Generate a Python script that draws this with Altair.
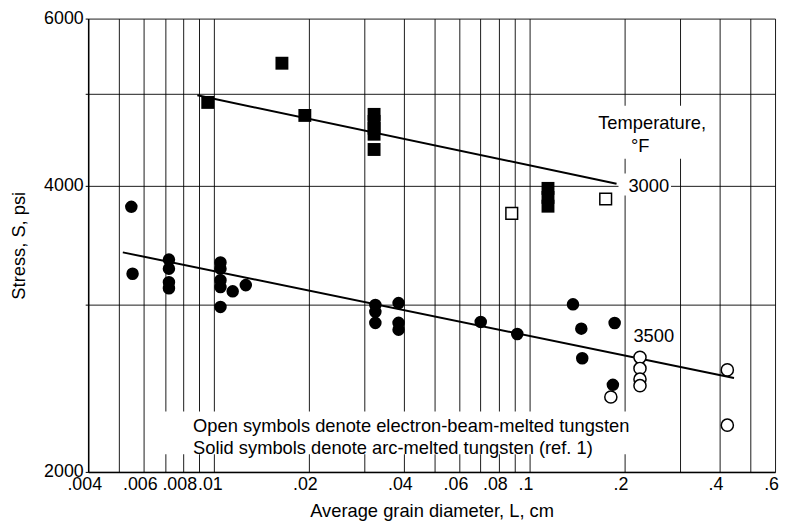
import altair as alt
import pandas as pd

# ---- data ----
# solid circles: arc-melted tungsten, 3500 F
solid_circle_L = [0.00548, 0.00553, 0.00721, 0.00721, 0.00721, 0.00721,
                  0.0105, 0.0105, 0.0105, 0.0105, 0.0105, 0.01148, 0.01263,
                  0.0325, 0.0325, 0.0325, 0.0385, 0.0385, 0.0385,
                  0.0701, 0.0915, 0.1374, 0.146, 0.1862, 0.147, 0.1838]
solid_circle_S = [3802, 3233, 3346, 3273, 3167, 3121,
                  3322, 3273, 3183, 3130, 2983, 3098, 3145,
                  2997, 2948, 2870, 3011, 2870, 2823,
                  2876, 2794, 3002, 2830, 2869, 2634, 2470]
# solid squares: arc-melted tungsten, 3000 F
solid_square_L = [0.00957, 0.01644, 0.01943, 0.0322, 0.0322, 0.0322, 0.0322, 0.0322,
                  0.1145, 0.1145, 0.1145]
solid_square_S = [4897, 5385, 4745, 4757, 4677, 4600, 4534, 4369,
                  3976, 3890, 3808]
# open circles: electron-beam-melted, 3500 F
open_circle_L = [0.1811, 0.224, 0.224, 0.224, 0.224, 0.4236, 0.4236]
open_circle_S = [2398, 2640, 2570, 2504, 2465, 2561, 2240]
# open squares: electron-beam-melted, 3000 F
open_square_L = [0.0879, 0.1744]
open_square_S = [3743, 3875]
# fitted lines
line3000_L = [0.00887, 0.1888]
line3000_S = [4982, 4021]
line3500_L = [0.00515, 0.4447]
line3500_S = [3405, 2511]

# tick values
x_grid = [0.004, 0.005, 0.006, 0.007, 0.008, 0.009,
          0.01, 0.02, 0.03, 0.04, 0.05, 0.06, 0.07, 0.08, 0.09,
          0.1, 0.2, 0.3, 0.4, 0.5, 0.6]
x_labeled = [0.004, 0.006, 0.008, 0.01, 0.02, 0.04, 0.06, 0.08, 0.1, 0.2, 0.4, 0.6]
y_grid = [2000, 3000, 4000, 5000, 6000]

# annotation text
texts = ["Temperature,", "\u00b0F", "3000", "3500",
         "Open symbols denote electron-beam-melted tungsten",
         "Solid symbols denote arc-melted tungsten (ref. 1)"]
text_L = [0.2447, 0.2245, 0.2059, 0.2135, 0.0086, 0.0086]
text_S = [4660, 4410, 4000, 2779, 2237, 2118]
text_align = ["center", "center", "left", "left", "left", "left"]

# white backgrounds behind labels (in data coordinates)
box_L1 = [0.00692, 0.160, 0.1915]
box_L2 = [0.2135, 0.380, 0.2809]
box_S1 = [2315, 4859, 4121]
box_S2 = [2087, 4272, 3909]

FONT = "Liberation Sans, Arial, sans-serif"

xs = alt.Scale(type="log", domain=[0.004, 0.6], nice=False)
ys = alt.Scale(type="log", domain=[2000, 6000], nice=False)

lab_list = "[" + ",".join(str(v) for v in x_labeled) + "]"
xaxis = alt.Axis(values=x_grid, grid=True, gridColor="black", gridWidth=1, gridOpacity=0.9,
                 labelExpr=f"indexof({lab_list}, datum.value) >= 0 ? replace(toString(datum.value), '0.', '.') : ''",
                 title="Average grain diameter, L, cm", labelFlush=False, labelOffset=-4,
                 ticks=False, labelPadding=4, titlePadding=8,
                 domainColor="black", domainWidth=1.5)
yaxis = alt.Axis(values=y_grid, grid=True, gridColor="black", gridWidth=1, gridOpacity=0.9,
                 format="d",
                 labelExpr="datum.value == 3000 || datum.value == 5000 ? '' : datum.label",
                 title="Stress, S, psi", ticks=True, tickSize=3, tickColor="black",
                 labelPadding=2, titlePadding=15,
                 domainColor="black", domainWidth=1.5)


def X(f):
    return alt.X(f, type="quantitative", scale=xs, axis=xaxis)


def Y(f):
    return alt.Y(f, type="quantitative", scale=ys, axis=yaxis)


boxes = pd.DataFrame({"L1": box_L1, "L2": box_L2, "S1": box_S1, "S2": box_S2})
box_layer = alt.Chart(boxes).mark_rect(fill="white", strokeWidth=0).encode(
    x=X("L1"), x2="L2", y=Y("S1"), y2="S2")

l3000 = pd.DataFrame({"L": line3000_L, "S": line3000_S})
l3500 = pd.DataFrame({"L": line3500_L, "S": line3500_S})
line_a = alt.Chart(l3000).mark_line(color="black", strokeWidth=2).encode(x=X("L"), y=Y("S"))
line_b = alt.Chart(l3500).mark_line(color="black", strokeWidth=2).encode(x=X("L"), y=Y("S"))

sc = pd.DataFrame({"L": solid_circle_L, "S": solid_circle_S})
ss = pd.DataFrame({"L": solid_square_L, "S": solid_square_S})
oc = pd.DataFrame({"L": open_circle_L, "S": open_circle_S})
osq = pd.DataFrame({"L": open_square_L, "S": open_square_S})

p_sc = alt.Chart(sc).mark_point(shape="circle", filled=True, color="black", size=160, opacity=1).encode(
    x=X("L"), y=Y("S"))
p_ss = alt.Chart(ss).mark_point(shape="square", filled=True, color="black", size=170, opacity=1).encode(
    x=X("L"), y=Y("S"))
p_oc = alt.Chart(oc).mark_point(shape="circle", filled=True, fill="white", stroke="black",
                                strokeWidth=1.5, size=150, opacity=1).encode(x=X("L"), y=Y("S"))
p_os = alt.Chart(osq).mark_point(shape="square", filled=True, fill="white", stroke="black",
                                 strokeWidth=1.5, size=140, opacity=1).encode(x=X("L"), y=Y("S"))

tdf = pd.DataFrame({"t": texts, "L": text_L, "S": text_S, "a": text_align})
t_center = alt.Chart(tdf[tdf.a == "center"]).mark_text(
    font=FONT, fontSize=18.5, color="black", align="center", baseline="middle").encode(
    x=X("L"), y=Y("S"), text="t")
t_left = alt.Chart(tdf[tdf.a == "left"]).mark_text(
    font=FONT, fontSize=18.5, color="black", align="left", baseline="middle").encode(
    x=X("L"), y=Y("S"), text="t")

chart = alt.layer(box_layer, line_a, line_b, p_sc, p_ss, p_oc, p_os, t_center, t_left).properties(
    width=694, height=458,
    autosize=alt.AutoSizeParams(type="none"),
    padding={"left": 81, "top": 8, "right": 5, "bottom": 56},
).configure_axis(
    labelFont=FONT, titleFont=FONT, labelFontSize=18, titleFontSize=18.5,
    labelColor="black", titleColor="black", titleFontWeight="normal",
).configure_view(strokeWidth=0)

chart.save("out.html", embed_options={"renderer": "svg", "actions": False})
